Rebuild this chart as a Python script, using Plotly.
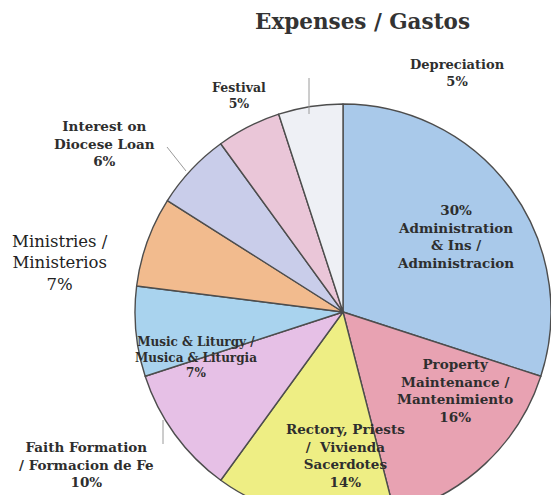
import plotly.graph_objects as go

# ---------------- data ----------------
title_text = "Expenses / Gastos"
categories = [
    "Administration & Ins / Administracion",
    "Property Maintenance / Mantenimiento",
    "Rectory, Priests / Vivienda Sacerdotes",
    "Faith Formation / Formacion de Fe",
    "Music & Liturgy / Musica & Liturgia",
    "Ministries / Ministerios",
    "Interest on Diocese Loan",
    "Festival",
    "Depreciation",
]
values = [30, 16, 14, 10, 7, 7, 6, 5, 5]
label_lines = [
    ["Administration", "& Ins /", "Administracion"],
    ["Property", "Maintenance /", "Mantenimiento"],
    ["Rectory, Priests", "/  Vivienda", "Sacerdotes"],
    ["Faith Formation", "/ Formacion de Fe"],
    ["Music & Liturgy /", "Musica & Liturgia"],
    ["Ministries /", "Ministerios"],
    ["Interest on", "Diocese Loan"],
    ["Festival"],
    ["Depreciation"],
]

# ---------------- style ----------------
colors = ["#a9c9ea", "#e8a2b2", "#eeee84", "#e6c0e6", "#a9d3ee",
          "#f2bb8e", "#c9cdea", "#eac6d8", "#eef0f5"]
W, H = 560, 525
CX, CY, R = 343, 312, 208
FONT = "DejaVu Serif"
TXT = "#2e2e2e"

# label block centres (pixels), font size, weight
label_style = [
    (455, 237, 13.5, "bold"),
    (455, 390, 13.5, "bold"),
    (345, 455, 13.5, "bold"),
    (86, 464, 13.5, "bold"),
    (196, 357, 12, "bold"),
    (60, 263, 16.5, "normal"),
    (104, 144, 13.5, "bold"),
    (239, 96, 12.5, "bold"),
    (457, 73, 13, "bold"),
]


def px(x):
    return x / W


def py(y):
    return 1 - y / H


fig = go.Figure()
fig.add_trace(go.Pie(
    labels=categories,
    values=values,
    sort=False,
    direction="clockwise",
    rotation=0,
    textinfo="none",
    hoverinfo="label+percent",
    showlegend=False,
    marker=dict(colors=colors, line=dict(color="#4d4d4d", width=1.4)),
    domain=dict(x=[px(CX - R), px(CX + R)], y=[py(CY + R), py(CY - R)]),
))

annotations = [dict(
    text="<b>" + title_text + "</b>", x=px(362), y=py(22), xref="paper", yref="paper",
    showarrow=False, xanchor="center", yanchor="middle",
    font=dict(family=FONT, size=21.5, color="#333333"),
)]
for i, (lines, v) in enumerate(zip(label_lines, values)):
    pct = f"{v}%"
    rows = [pct] + lines if i == 0 else lines + [pct]
    x, y, size, weight = label_style[i]
    annotations.append(dict(
        text="<br>".join(rows), x=px(x), y=py(y), xref="paper", yref="paper",
        showarrow=False, xanchor="center", yanchor="middle", align="center",
        font=dict(family=FONT, size=size, color=TXT if weight == "bold" else "#222222", weight=weight),
    ))

leader = [((309, 78), (309, 114)), ((167, 147), (186, 171)), ((163, 420), (163, 444))]
shapes = [dict(type="line", xref="paper", yref="paper",
               x0=px(a[0]), y0=py(a[1]), x1=px(b[0]), y1=py(b[1]),
               line=dict(color="#9a9a9a", width=1)) for a, b in leader]

fig.update_layout(
    width=W, height=H,
    margin=dict(l=0, r=0, t=0, b=0),
    paper_bgcolor="white", plot_bgcolor="white",
    annotations=annotations, shapes=shapes,
)

fig.write_html("out.html", config={"displayModeBar": False},
               post_script="document.body.style.margin='0';document.body.style.overflow='hidden';")
